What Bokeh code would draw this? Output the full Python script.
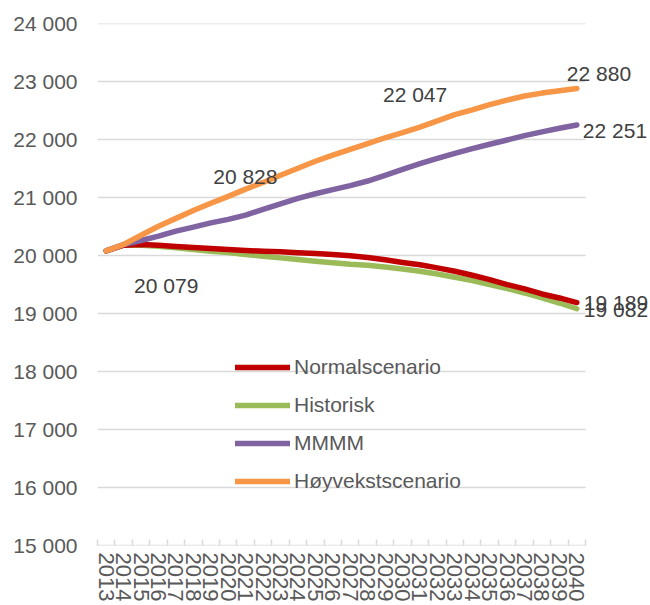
from bokeh.plotting import figure
from bokeh.models import (Range1d, FixedTicker, CustomJSTickFormatter, Legend, LegendItem,
                          ColumnDataSource)
from bokeh.core.properties import value
from bokeh.embed import file_html
from bokeh.resources import INLINE

years = list(range(2013, 2041))

normal = [20079, 20178, 20190, 20178, 20155, 20138, 20121, 20104, 20086, 20074,
          20063, 20046, 20034, 20017, 19995, 19965, 19925, 19880, 19840, 19786,
          19729, 19660, 19585, 19499, 19424, 19337, 19268, 19189]
historisk = [20079, 20178, 20178, 20161, 20132, 20104, 20074, 20052, 20017, 19988,
             19959, 19931, 19900, 19875, 19850, 19832, 19803, 19768, 19729, 19682,
             19625, 19568, 19499, 19430, 19354, 19268, 19181, 19082]
mmmm = [20079, 20190, 20259, 20333, 20420, 20489, 20563, 20622, 20696, 20795,
        20892, 20985, 21065, 21135, 21205, 21284, 21382, 21486, 21583, 21676,
        21762, 21842, 21918, 21992, 22067, 22131, 22195, 22251]
hoyvekst = [20079, 20190, 20350, 20505, 20640, 20775, 20900, 21020, 21145, 21260,
            21385, 21505, 21625, 21730, 21830, 21930, 22030, 22120, 22215, 22320,
            22430, 22510, 22600, 22680, 22750, 22800, 22840, 22880]

series_names = ["Normalscenario", "Historisk", "MMMM", "Høyvekstscenario"]
colors = ["#C00000", "#9BBB59", "#8064A2", "#F79646"]

y_ticks = list(range(15000, 24001, 1000))

FONT = "Liberation Sans"

def fmt(v):
    return f"{v:,}".replace(",", " ")

# category band edges
x_lo = years[0] - 0.5
x_hi = years[-1] + 0.5
# extra room on the right inside the frame for the end labels (px per year ~17.43)
x_extra = (650 - 97) / 17.43 - len(years)

p = figure(width=650, height=605, output_backend="svg", toolbar_location=None,
           x_range=Range1d(x_lo, x_hi + x_extra), y_range=Range1d(y_ticks[0], y_ticks[-1]),
           min_border_left=97, min_border_right=0, min_border_top=23, min_border_bottom=60)
p.outline_line_color = None
p.background_fill_color = "white"
p.border_fill_color = "white"

p.xgrid.grid_line_color = None
p.ygrid.grid_line_color = None

# horizontal gridlines limited to the category span
p.segment(x0=[x_lo] * len(y_ticks), x1=[x_hi] * len(y_ticks), y0=y_ticks, y1=y_ticks,
          line_color="#d9d9d9", line_width=1.5)

# y axis
p.yaxis.ticker = FixedTicker(ticks=y_ticks)
p.yaxis.formatter = CustomJSTickFormatter(code="return Math.round(tick).toString().replace(/\\B(?=(\\d{3})+(?!\\d))/g, ' ');")
p.yaxis.axis_line_color = None
p.yaxis.major_tick_line_color = None
p.yaxis.minor_tick_line_color = None
p.yaxis.major_tick_out = 0
p.yaxis.major_label_standoff = 20
p.yaxis.major_label_text_font = FONT
p.yaxis.major_label_text_font_size = "21px"
p.yaxis.major_label_text_color = "#595959"

# x axis
p.xaxis.ticker = FixedTicker(ticks=years, minor_ticks=[y - 0.5 for y in years] + [x_hi])
p.xaxis.formatter = CustomJSTickFormatter(code="return tick.toFixed(0);")
p.xaxis.axis_line_color = None
p.xaxis.major_tick_line_color = None
p.xaxis.major_tick_out = 0
p.xaxis.major_tick_in = 0
p.xaxis.minor_tick_line_color = "#d9d9d9"
p.xaxis.minor_tick_line_width = 1.5
p.xaxis.minor_tick_in = 6
p.xaxis.minor_tick_out = 0
p.xaxis.major_label_orientation = "vertical"
p.xaxis.major_label_standoff = 7
p.xaxis.major_label_text_font = FONT
p.xaxis.major_label_text_font_size = "22px"
p.xaxis.major_label_text_color = "#595959"

renderers = {}
for name, data, col in [("Historisk", historisk, colors[1]), ("Normalscenario", normal, colors[0]),
                        ("MMMM", mmmm, colors[2]), ("Høyvekstscenario", hoyvekst, colors[3])]:
    r = p.line(years, data, line_color=col, line_width=5.5, line_cap="round", line_join="round")
    renderers[name] = r

items = [LegendItem(label=n, renderers=[renderers[n]]) for n in series_names]
legend = Legend(items=items, location=(138, 52), orientation="vertical",
                glyph_width=55, glyph_height=20, label_height=20, label_standoff=4,
                spacing=14, padding=0, margin=0,
                background_fill_alpha=0, border_line_color=None,
                label_text_font=FONT, label_text_font_size="21px", label_text_color="#595959")
p.add_layout(legend)

# data labels
lab_style = dict(text_font=value(FONT), text_font_size="21px", text_color="#404040",
                 text_baseline="middle")

# orange-series labels (centered)
c_years = [2013, 2018, 2029]
c_vals = [20079, 20828, 22047]
c_dx = [60, 52, 30]
c_dy = [35, -34, -43]
src_c = ColumnDataSource(dict(x=c_years, y=[hoyvekst[years.index(yy)] for yy in c_years],
                              t=[fmt(v) for v in c_vals], dx=c_dx, dy=c_dy))
p.text(x="x", y="y", text="t", x_offset="dx", y_offset="dy", source=src_c,
       text_align="center", **lab_style)

# end labels (left aligned)
end_vals = [hoyvekst[-1], mmmm[-1], normal[-1], historisk[-1]]
e_dx = [-10, 6, 7, 7]
e_dy = [-15, 6, 0, 1]
src_e = ColumnDataSource(dict(x=[years[-1]] * 4, y=end_vals, t=[fmt(v) for v in end_vals],
                              dx=e_dx, dy=e_dy))
p.text(x="x", y="y", text="t", x_offset="dx", y_offset="dy", source=src_e,
       text_align="left", **lab_style)

open("out.html", "w").write(file_html(p, INLINE))
